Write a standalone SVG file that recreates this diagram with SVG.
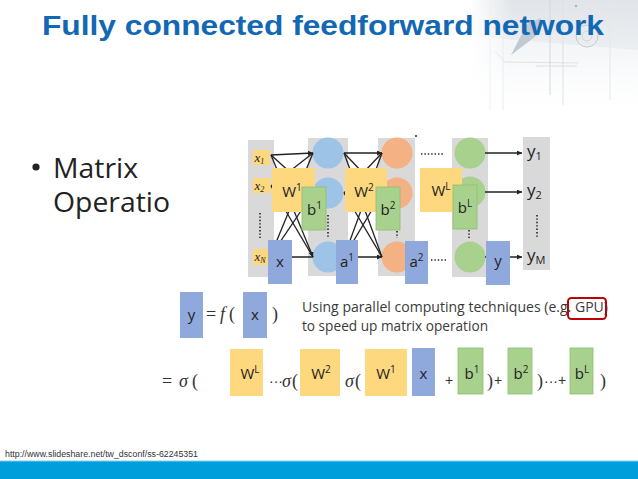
<svg xmlns="http://www.w3.org/2000/svg" width="638" height="479" viewBox="0 0 638 479">
<defs>
<style>
.col{fill:#d9d9d9}
.bc{fill:#9dc3e6}
.oc{fill:#f4b183}
.gc{fill:#a9d18e}
.W{fill:#fdd87e}
.B{fill:#a9d18e;stroke:#8cbf6e;stroke-width:0.8}
.X{fill:#8fa9dc}
.inb{fill:#fdd87e}
.lbl{font-family:"Open Sans","Noto Sans",sans-serif;font-size:15px;fill:#222;text-anchor:middle}
.sup{font-size:10px}
.ix{font-family:"Liberation Serif",serif;font-style:italic;font-size:13px;fill:#222}
.edge{stroke:#222;stroke-width:1.3;fill:none}
.dots{stroke:#222;stroke-width:1.6;stroke-dasharray:1.4 2;fill:none}
.out{font-family:"Open Sans","Noto Sans",sans-serif;font-size:17px;fill:#222}
.math{font-family:"Liberation Serif",serif;font-size:18px;fill:#333}
.sig{font-family:"Liberation Serif",serif;font-size:18px;font-style:italic;fill:#333}
.pl{font-family:"Liberation Sans",sans-serif;font-size:14px;fill:#333}
.txt{font-family:"Open Sans","Noto Sans",sans-serif;font-size:15px;fill:#3a3a3a}
</style>
<marker id="ah" viewBox="0 0 10 10" refX="10" refY="5" markerWidth="5" markerHeight="5" orient="auto" markerUnits="userSpaceOnUse">
<path d="M0,0 L10,5 L0,10 z" fill="#222"/>
</marker>
<linearGradient id="fade" x1="0" y1="0" x2="0" y2="1">
<stop offset="0" stop-color="#e1e5e9"/>
<stop offset="0.45" stop-color="#eceff2"/>
<stop offset="1" stop-color="#ffffff" stop-opacity="0"/>
</linearGradient>
<linearGradient id="fadeL" x1="0" y1="0" x2="1" y2="0">
<stop offset="0" stop-color="#ffffff"/>
<stop offset="0.25" stop-color="#ffffff" stop-opacity="0"/>
</linearGradient>
</defs>

<!-- background -->
<rect x="0" y="0" width="638" height="479" fill="#ffffff"/>
<g id="decoration">
<rect x="470" y="0" width="168" height="118" fill="url(#fade)"/>
<polygon points="470,36 638,50 638,118 470,118" fill="#ffffff" opacity="0.45"/>
<line x1="490" y1="0" x2="490" y2="110" stroke="#dde1e5" stroke-width="1"/>
<line x1="503" y1="0" x2="503" y2="110" stroke="#e4e7ea" stroke-width="1"/>
<line x1="550" y1="0" x2="550" y2="95" stroke="#d3d8dd" stroke-width="1"/>
<line x1="563" y1="0" x2="563" y2="105" stroke="#dde1e5" stroke-width="1"/>
<line x1="610" y1="0" x2="610" y2="100" stroke="#e4e7ea" stroke-width="1"/>
<polygon points="511,55 527,24 541,18 536,36" fill="#bfcad2"/>
<circle cx="587" cy="36" r="11" fill="none" stroke="#c3cad1" stroke-width="1"/>
<circle cx="587" cy="36" r="5" fill="none" stroke="#d0d6db" stroke-width="1"/>
<polyline points="495,51 505,62 578,63" fill="none" stroke="#cdd3d8" stroke-width="0.6"/>
<line x1="536" y1="66" x2="577" y2="66" stroke="#dbe0e4" stroke-width="1"/>
<circle cx="576" cy="6" r="1.2" fill="#aab3bb"/>
<rect x="470" y="0" width="168" height="118" fill="url(#fadeL)"/>
</g>

<!-- title -->
<text x="42" y="35" font-family="Liberation Sans, Arial, sans-serif" font-weight="bold" font-size="28" fill="#1368b3" textLength="562" lengthAdjust="spacingAndGlyphs">Fully connected feedforward network</text>

<!-- bullet -->
<g id="bullet">
<circle cx="36" cy="167" r="3.6" fill="#222"/>
<text x="53" y="178" font-family="Open Sans, Noto Sans, sans-serif" font-size="27" fill="#222" textLength="85" lengthAdjust="spacingAndGlyphs">Matrix</text>
<text x="53" y="212" font-family="Open Sans, Noto Sans, sans-serif" font-size="27" fill="#222" textLength="117" lengthAdjust="spacingAndGlyphs">Operatio</text>
</g>

<!-- network columns -->
<g id="columns">
<rect class="col" x="248" y="140" width="26" height="137"/>
<rect class="col" x="308" y="138" width="40" height="138"/>
<rect class="col" x="378" y="138" width="37" height="138"/>
<rect class="col" x="452" y="138" width="36" height="139"/>
<rect class="col" x="523" y="137" width="27" height="133"/>
</g>

<g id="inputs">
<rect class="inb" x="253" y="150" width="17" height="15"/>
<text class="ix" x="254.5" y="162">x<tspan font-size="8" dy="2">1</tspan></text>
<rect class="inb" x="253" y="178" width="18" height="15"/>
<text class="ix" x="254.5" y="190">x<tspan font-size="8" dy="2">2</tspan></text>
<rect class="inb" x="253" y="249" width="17" height="16"/>
<text class="ix" x="254.5" y="261">x<tspan font-size="8" dy="2">N</tspan></text>
</g>

<g id="layer1-neurons">
<circle class="bc" cx="328" cy="153" r="15.5"/>
<circle class="bc" cx="328" cy="193" r="15.5"/>
<circle class="bc" cx="328" cy="257" r="15.5"/>
</g>
<g id="layer2-neurons">
<circle class="oc" cx="397" cy="153" r="15.5"/>
<circle class="oc" cx="397" cy="193" r="15.5"/>
<circle class="oc" cx="397" cy="257" r="15.5"/>
</g>
<g id="layerL-neurons">
<circle class="gc" cx="470" cy="153" r="15.5"/>
<circle class="gc" cx="470" cy="192" r="15.5"/>
<circle class="gc" cx="470" cy="257" r="15.5"/>
</g>

<g id="connectors">
<line class="edge" x1="271" y1="155" x2="313" y2="153" marker-end="url(#ah)"/>
<line class="edge" x1="271" y1="155" x2="313" y2="193"/>
<line class="edge" x1="271" y1="155" x2="313" y2="257" marker-end="url(#ah)"/>
<line class="edge" x1="271" y1="186" x2="313" y2="153"/>
<line class="edge" x1="271" y1="186" x2="313" y2="193"/>
<line class="edge" x1="271" y1="186" x2="313" y2="257"/>
<line class="edge" x1="270" y1="257" x2="313" y2="153"/>
<line class="edge" x1="270" y1="257" x2="313" y2="193"/>
<line class="edge" x1="270" y1="257" x2="313" y2="257"/>
<line class="edge" x1="344" y1="153" x2="382" y2="153" marker-end="url(#ah)"/>
<line class="edge" x1="344" y1="153" x2="382" y2="193"/>
<line class="edge" x1="344" y1="153" x2="382" y2="257"/>
<line class="edge" x1="344" y1="193" x2="382" y2="153"/>
<line class="edge" x1="344" y1="193" x2="382" y2="193"/>
<line class="edge" x1="344" y1="193" x2="382" y2="257"/>
<line class="edge" x1="344" y1="257" x2="382" y2="153"/>
<line class="edge" x1="344" y1="257" x2="382" y2="193"/>
<line class="edge" x1="344" y1="257" x2="382" y2="257" marker-end="url(#ah)"/>
<line class="edge" x1="485" y1="153" x2="522" y2="153" marker-end="url(#ah)"/>
<line class="edge" x1="485" y1="192" x2="522" y2="192" marker-end="url(#ah)"/>
<line class="edge" x1="485" y1="257" x2="522" y2="257" marker-end="url(#ah)"/>
<line class="dots" x1="421" y1="154" x2="444" y2="154"/>
<line class="dots" x1="431" y1="260" x2="448" y2="260"/>
<line class="dots" x1="260" y1="213" x2="260" y2="238"/>
<line class="dots" x1="328" y1="215" x2="328" y2="237"/>
<line class="dots" x1="397" y1="231" x2="397" y2="238"/>
<line class="dots" x1="469" y1="230" x2="469" y2="238"/>
<line class="dots" x1="537" y1="215" x2="537" y2="238"/>
<circle cx="416" cy="136" r="1" fill="#222"/>
</g>

<g id="W1">
<rect class="W" x="272" y="168" width="43" height="44"/>
<text class="lbl" x="292" y="197">W<tspan class="sup" dy="-6">1</tspan></text>
</g>
<g id="b1">
<rect class="B" x="302" y="187" width="24" height="43"/>
<text class="lbl" x="314.5" y="215">b<tspan class="sup" dy="-6">1</tspan></text>
</g>
<g id="x">
<rect class="X" x="268" y="240" width="24" height="44"/>
<text class="lbl" x="280" y="267">x</text>
</g>
<g id="W2">
<rect class="W" x="345" y="168" width="42" height="44"/>
<text class="lbl" x="364" y="197">W<tspan class="sup" dy="-6">2</tspan></text>
</g>
<g id="b2">
<rect class="B" x="376" y="187" width="24" height="43"/>
<text class="lbl" x="388" y="215">b<tspan class="sup" dy="-6">2</tspan></text>
</g>
<g id="a1">
<rect class="X" x="336" y="240" width="22" height="44"/>
<text class="lbl" x="347" y="267">a<tspan class="sup" dy="-6">1</tspan></text>
</g>
<g id="a2">
<rect class="X" x="405" y="241" width="23" height="43"/>
<text class="lbl" x="416.5" y="267">a<tspan class="sup" dy="-6">2</tspan></text>
</g>
<g id="WL">
<rect class="W" x="420" y="168" width="42" height="44"/>
<text class="lbl" x="441" y="196">W<tspan class="sup" dy="-6">L</tspan></text>
</g>
<g id="bL">
<rect class="B" x="453" y="185" width="24" height="44"/>
<text class="lbl" x="465" y="213">b<tspan class="sup" dy="-6">L</tspan></text>
</g>
<g id="y">
<rect class="X" x="486" y="241" width="24" height="44"/>
<text class="lbl" x="498" y="266">y</text>
</g>

<g id="outputs">
<text class="out" x="527" y="157">y<tspan font-size="11" dy="3">1</tspan></text>
<text class="out" x="527" y="196">y<tspan font-size="11" dy="3">2</tspan></text>
<text class="out" x="527" y="261">y<tspan font-size="11" dy="3">M</tspan></text>
</g>

<!-- equation row 1 -->
<g id="eq1">
<rect class="X" x="180" y="292" width="23" height="46"/>
<text class="lbl" x="191.5" y="320">y</text>
<text class="math" x="206" y="320">=</text>
<text class="sig" x="220" y="320">f</text>
<text class="math" x="229" y="320">(</text>
<rect class="X" x="243" y="292" width="24" height="46"/>
<text class="lbl" x="255" y="320">x</text>
<text class="math" x="272" y="320">)</text>
<text class="txt" x="302" y="312" textLength="306" lengthAdjust="spacingAndGlyphs">Using parallel computing techniques (e.g. GPU)</text>
<text class="txt" x="302" y="331" textLength="186" lengthAdjust="spacingAndGlyphs">to speed up matrix operation</text>
<rect x="568" y="298" width="38" height="21" rx="3.5" fill="none" stroke="#c00000" stroke-width="2"/>
</g>

<!-- equation row 2 -->
<g id="eq2">
<text class="math" x="162" y="387">=</text>
<text class="sig" x="179" y="387">σ</text>
<text class="math" x="192" y="387">(</text>
<rect class="W" x="230" y="349" width="33" height="47"/>
<text class="lbl" x="250" y="379">W<tspan class="sup" dy="-6">L</tspan></text>
<text class="pl" x="269" y="386">···</text>
<text class="sig" x="282" y="387">σ</text>
<text class="math" x="292" y="387">(</text>
<rect class="W" x="300" y="349" width="40" height="47"/>
<text class="lbl" x="321" y="379">W<tspan class="sup" dy="-6">2</tspan></text>
<text class="sig" x="345" y="387">σ</text>
<text class="math" x="355" y="387">(</text>
<rect class="W" x="365" y="349" width="42" height="47"/>
<text class="lbl" x="386" y="379">W<tspan class="sup" dy="-6">1</tspan></text>
<rect class="X" x="412" y="348" width="23" height="48"/>
<text class="lbl" x="423.5" y="379">x</text>
<text class="pl" x="445" y="385">+</text>
<rect class="B" x="458" y="348" width="25" height="46"/>
<text class="lbl" x="472" y="379">b<tspan class="sup" dy="-6">1</tspan></text>
<text class="math" x="487" y="387">)</text>
<text class="pl" x="494" y="385">+</text>
<rect class="B" x="508" y="348" width="24" height="46"/>
<text class="lbl" x="521" y="379">b<tspan class="sup" dy="-6">2</tspan></text>
<text class="math" x="537" y="387">)</text>
<text class="pl" x="544" y="386">···</text>
<text class="pl" x="558" y="385">+</text>
<rect class="B" x="570" y="348" width="23" height="46"/>
<text class="lbl" x="582" y="379">b<tspan class="sup" dy="-6">L</tspan></text>
<text class="math" x="600" y="387">)</text>
</g>

<!-- footer -->
<text x="5" y="457" font-family="Liberation Sans, Arial, sans-serif" font-size="8.5" fill="#333" textLength="193" lengthAdjust="spacingAndGlyphs">http://www.slideshare.net/tw_dsconf/ss-62245351</text>
<rect x="0" y="461" width="638" height="18" fill="#009edb"/>
<rect x="0" y="460.5" width="638" height="1" fill="#7fd2f2"/>
</svg>
